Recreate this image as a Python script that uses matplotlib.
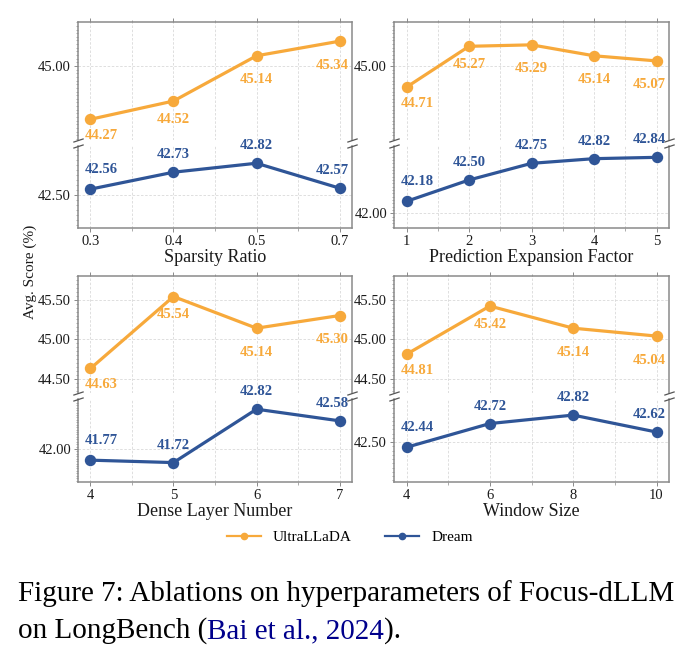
import matplotlib
matplotlib.use("Agg")
import matplotlib.pyplot as plt
from matplotlib.ticker import FixedLocator, MultipleLocator, FormatStrFormatter
from matplotlib.lines import Line2D

plt.rcParams['font.family'] = ['Liberation Serif', 'DejaVu Serif']

# ---------------- data ----------------
sparsity_ratio = ["0.3", "0.4", "0.5", "0.7"]
sparsity_ultra = [44.27, 44.52, 45.14, 45.34]
sparsity_dream = [42.56, 42.73, 42.82, 42.57]

expansion_factor = ["1", "2", "3", "4", "5"]
expansion_ultra = [44.71, 45.27, 45.29, 45.14, 45.07]
expansion_dream = [42.18, 42.50, 42.75, 42.82, 42.84]

dense_layers = ["4", "5", "6", "7"]
dense_ultra = [44.63, 45.54, 45.14, 45.30]
dense_dream = [41.77, 41.72, 42.82, 42.58]

window_size = ["4", "6", "8", "10"]
window_ultra = [44.81, 45.42, 45.14, 45.04]
window_dream = [42.44, 42.72, 42.82, 42.62]

xlabels = ["Sparsity Ratio", "Prediction Expansion Factor", "Dense Layer Number", "Window Size"]
series_names = ["UltraLLaDA", "Dream"]

# ---------------- style ----------------
W, H = 693, 656
ORANGE = '#F7A93B'
BLUE = '#2F5597'
SPINE = '#8a8a8a'
GRID = '#d9d9d9'

fig = plt.figure(figsize=(W / 100, H / 100), dpi=100)


def rect(L, T, R, B):
    return [L / W, 1 - B / H, (R - L) / W, (B - T) / H]


panels = [
    dict(cats=sparsity_ratio, up=sparsity_ultra, lo=sparsity_dream, xl=xlabels[0],
         L=78, R=352, T=22, M1=140, M2=146, B=228,
         uylim=(43.986, 45.603), lylim=(42.17, 42.993), uticks=[45.0], lticks=[42.5]),
    dict(cats=expansion_factor, up=expansion_ultra, lo=expansion_dream, xl=xlabels[1],
         L=394, R=669, T=22, M1=140, M2=146, B=228,
         uylim=(43.986, 45.603), lylim=(41.78, 43.01), uticks=[45.0], lticks=[42.0]),
    dict(cats=dense_layers, up=dense_ultra, lo=dense_dream, xl=xlabels[2],
         L=78, R=352, T=276, M1=393, M2=399, B=482,
         uylim=(44.32, 45.80), lylim=(41.32, 43.03), uticks=[44.5, 45.0, 45.5], lticks=[42.0]),
    dict(cats=window_size, up=window_ultra, lo=window_dream, xl=xlabels[3],
         L=394, R=669, T=276, M1=393, M2=399, B=482,
         uylim=(44.32, 45.80), lylim=(42.03, 43.01), uticks=[44.5, 45.0, 45.5], lticks=[42.5]),
]

up_dy = [-16, -18, -24, -24, -24]
lo_dy = [19.5, 17.5, 17.5, 17.5, 17.5]


def style_axes(ax):
    for s in ax.spines.values():
        s.set_color(SPINE)
        s.set_linewidth(1.1)
    ax.xaxis.set_minor_locator(MultipleLocator(0.5))
    ax.yaxis.set_minor_locator(MultipleLocator(0.05))
    ax.grid(True, which='major', color=GRID, linestyle=(0, (3, 2)), linewidth=0.6, zorder=0)
    ax.grid(True, which='minor', axis='x', color=GRID, linestyle=(0, (3, 2)), linewidth=0.6, zorder=0)
    ax.tick_params(which='major', direction='out', length=3, width=0.7, color=SPINE,
                   labelsize=10.5, labelcolor='#1a1a1a', pad=2)
    ax.tick_params(which='minor', direction='out', length=1.8, width=0.5, color=SPINE)
    ax.set_axisbelow(True)


for p in panels:
    n = len(p['cats'])
    xs = list(range(n))
    axu = fig.add_axes(rect(p['L'], p['T'], p['R'], p['M1']))
    axl = fig.add_axes(rect(p['L'], p['M2'], p['R'], p['B']))
    for ax in (axu, axl):
        style_axes(ax)
        ax.set_xticks(xs)
        ax.set_xlim(-0.05 * (n - 1), (n - 1) * 1.05)
    axu.plot(xs, p['up'], color=ORANGE, lw=2.3, marker='o', ms=7.2, zorder=3, clip_on=False)
    axl.plot(xs, p['lo'], color=BLUE, lw=2.3, marker='o', ms=7.2, zorder=3, clip_on=False)
    axu.set_ylim(*p['uylim'])
    axl.set_ylim(*p['lylim'])
    axu.yaxis.set_major_locator(FixedLocator(p['uticks']))
    axl.yaxis.set_major_locator(FixedLocator(p['lticks']))
    axu.yaxis.set_major_formatter(FormatStrFormatter('%.2f'))
    axl.yaxis.set_major_formatter(FormatStrFormatter('%.2f'))
    axu.spines['bottom'].set_visible(False)
    axl.spines['top'].set_visible(False)
    axu.tick_params(axis='x', which='both', bottom=False, labelbottom=False, top=True)
    axl.tick_params(axis='x', which='both', top=False)
    axl.set_xticklabels(p['cats'])
    axl.set_xlabel(p['xl'], fontsize=13, labelpad=1, color='#1a1a1a')

    for i, (x, v) in enumerate(zip(xs, p['up'])):
        dx = 10.5 if i == 0 else (-7.5 if i == n - 1 else 0)
        axu.annotate(f"{v:.2f}", (x, v), xytext=(dx, up_dy[i]), textcoords='offset pixels',
                     ha='center', va='center', color=ORANGE, fontsize=10.5,
                     fontweight='bold', zorder=5, annotation_clip=False)
    for i, (x, v) in enumerate(zip(xs, p['lo'])):
        dx = 10.5 if i == 0 else (-7.5 if i == n - 1 else 0)
        axl.annotate(f"{v:.2f}", (x, v), xytext=(dx, lo_dy[i]), textcoords='offset pixels',
                     ha='center', va='center', color=BLUE, fontsize=10.5,
                     fontweight='bold', zorder=5, annotation_clip=False)

    # break marks
    d = 0.33
    kw = dict(marker=[(-1, -d), (1, d)], markersize=7.5, linestyle='none',
              color='#555555', mec='#555555', mew=0.9, clip_on=False, zorder=6)
    axu.plot([0, 1], [0, 0], transform=axu.transAxes, **kw)
    axl.plot([0, 1], [1, 1], transform=axl.transAxes, **kw)

fig.text(30 / W, 1 - 272 / H, "Avg. Score (%)", rotation=90, ha='center', va='center',
         fontsize=11, color='#1a1a1a')

handles = [Line2D([], [], color=ORANGE, lw=1.6, marker='o', ms=4.5),
           Line2D([], [], color=BLUE, lw=1.6, marker='o', ms=4.5)]
fig.legend(handles, series_names, loc='center', bbox_to_anchor=(350 / W, 1 - 537 / H),
           ncol=2, frameon=False, fontsize=11, handlelength=2.2, handletextpad=0.8,
           columnspacing=2.2)

# caption
CAP = 21
fig.text(18 / W, 1 - 601 / H, "Figure 7: Ablations on hyperparameters of Focus-dLLM",
         fontsize=CAP, ha='left', va='baseline', color='black')
pieces = [("on LongBench (", 'black'), ("Bai et al., 2024", '#00008B'), (").", 'black')]
renderer = fig.canvas.get_renderer()
x = 18 / W
for txt, col in pieces:
    t = fig.text(x, 1 - 638 / H, txt, fontsize=CAP, ha='left', va='baseline', color=col)
    bb = t.get_window_extent(renderer=renderer)
    x = bb.x1 / W

fig.savefig("out.png", dpi=100)
